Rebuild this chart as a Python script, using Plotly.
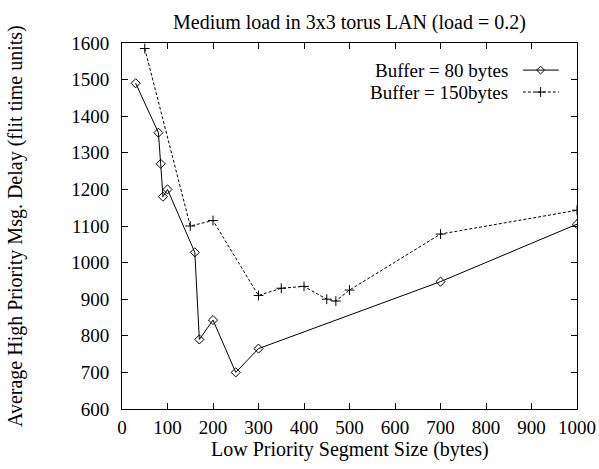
import plotly.graph_objects as go

# Data
seg80 = [30, 80, 85, 90, 100, 160, 170, 200, 250, 300, 700, 1000]
delay80 = [1490, 1355, 1270, 1180, 1200, 1028, 790, 843, 700, 765, 948, 1105]
seg150 = [50, 150, 200, 300, 350, 400, 450, 470, 500, 700, 1000]
delay150 = [1585, 1100, 1115, 910, 930, 935, 900, 895, 925, 1078, 1143]
name80 = "Buffer = 80 bytes"
name150 = "Buffer = 150bytes"
xticks = [0, 100, 200, 300, 400, 500, 600, 700, 800, 900, 1000]
yticks = [600, 700, 800, 900, 1000, 1100, 1200, 1300, 1400, 1500, 1600]
title_text = "Medium load in 3x3 torus LAN (load = 0.2)"
xtitle = "Low Priority Segment Size (bytes)"
ytitle = "Average High Priority Msg. Delay (flit time units)"

FONT = "Liberation Serif, Times New Roman, serif"
FS = 20

fig = go.Figure()
fig.add_trace(go.Scatter(
    x=seg80, y=delay80, mode="lines+markers", name=name80,
    line=dict(color="black", width=1),
    marker=dict(symbol="diamond-open", size=7, color="black", line=dict(width=1, color="black")),
    showlegend=False,
))
fig.add_trace(go.Scatter(
    x=seg150, y=delay150, mode="lines+markers", name=name150,
    line=dict(color="black", width=1, dash="3px,2px"),
    marker=dict(symbol="cross-thin-open", size=7, color="black", line=dict(width=1, color="black")),
    showlegend=False,
))

# gnuplot-like legend: text right-aligned, sample to the right
leg_rows = [(name80, 0.926, "solid"), (name150, 0.866, "dash")]
annotations = []
shapes = []
for name, yp, dash in leg_rows:
    annotations.append(dict(
        x=0.853, y=yp, xref="paper", yref="paper", text=name, showarrow=False,
        xanchor="right", yanchor="middle", font=dict(family=FONT, size=19, color="black"),
    ))
    shapes.append(dict(
        type="line", xref="paper", yref="paper", x0=0.881, x1=0.960, y0=yp, y1=yp,
        line=dict(color="black", width=1, dash=("solid" if dash == "solid" else "3px,2px")),
    ))
fig.add_trace(go.Scatter(
    x=[0.92], y=[0.926], xaxis="x2", yaxis="y2", mode="markers", showlegend=False,
    marker=dict(symbol="diamond-open", size=6, color="black", line=dict(width=1, color="black")),
    hoverinfo="skip",
))
fig.add_trace(go.Scatter(
    x=[0.92], y=[0.866], xaxis="x2", yaxis="y2", mode="markers", showlegend=False,
    marker=dict(symbol="cross-thin-open", size=7, color="black", line=dict(width=1, color="black")),
    hoverinfo="skip",
))

# titles as annotations (fixed positions like the original)
annotations.append(dict(
    x=0.5, y=1, xref="paper", yref="paper", yshift=21, text=title_text, showarrow=False,
    xanchor="center", yanchor="middle", font=dict(family=FONT, size=FS, color="black"),
))
annotations.append(dict(
    x=0.5, y=0, xref="paper", yref="paper", yshift=-40, text=xtitle, showarrow=False,
    xanchor="center", yanchor="middle", font=dict(family=FONT, size=FS, color="black"),
))
annotations.append(dict(
    x=0, y=0.5, xref="paper", yref="paper", xshift=-107, text=ytitle, showarrow=False,
    textangle=-90, xanchor="center", yanchor="middle", font=dict(family=FONT, size=FS, color="black"),
))

axis_common = dict(
    showline=True, linecolor="black", linewidth=1, mirror="ticks",
    ticks="inside", ticklen=6, tickcolor="black", tickwidth=1,
    showgrid=False, zeroline=False, automargin=False,
)

fig.update_layout(
    width=599, height=469,
    margin=dict(l=122, r=22, t=43, b=60),
    paper_bgcolor="white", plot_bgcolor="white",
    xaxis=dict(range=[0, 1000], tickvals=xticks, ticktext=[str(v) for v in xticks],
               ticklabelstandoff=1, tickfont=dict(family=FONT, size=19, color="black"),
               **axis_common),
    yaxis=dict(range=[600, 1600], tickvals=yticks, ticktext=[str(v) for v in yticks],
               ticklabelstandoff=8, tickfont=dict(family=FONT, size=19, color="black"),
               **axis_common),
    xaxis2=dict(range=[0, 1], overlaying="x", visible=False, fixedrange=True),
    yaxis2=dict(range=[0, 1], overlaying="y", visible=False, fixedrange=True),
    annotations=annotations,
    shapes=shapes,
    showlegend=False,
)

fig.write_html("out.html")
